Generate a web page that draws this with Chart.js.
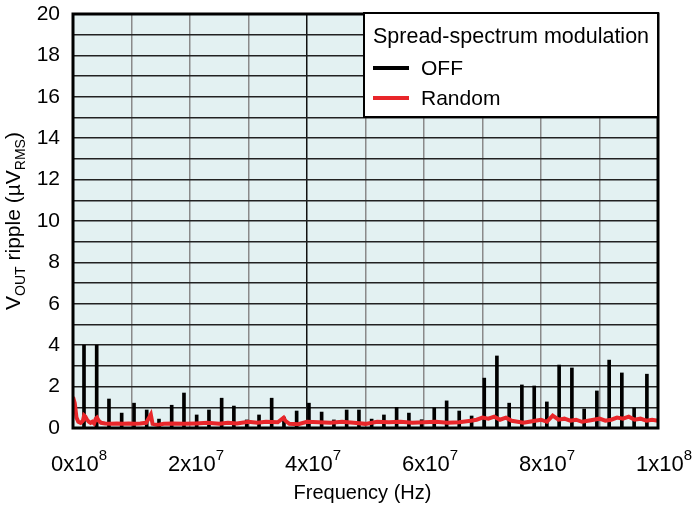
<!DOCTYPE html>
<html>
<head>
<meta charset="utf-8">
<script src="https://cdn.jsdelivr.net/npm/chart.js@4"></script>
<style>
  body { margin: 0; background: #fff; }
</style>
</head>
<body>
<canvas id="rippleChart" width="700" height="508"></canvas>
<script>
// spread-spectrum OFF: harmonic spikes (Hz, uVrms)
const offFreq = [1.88e6, 4.05e6, 6.15e6, 8.32e6, 10.43e6, 12.6e6, 14.7e6, 16.87e6, 18.97e6, 21.14e6,
  23.24e6, 25.41e6, 27.5e6, 29.7e6, 31.8e6, 33.96e6, 36.06e6, 38.23e6, 40.33e6, 42.5e6,
  44.6e6, 46.78e6, 48.88e6, 51.05e6, 53.15e6, 55.32e6, 57.42e6, 59.6e6, 61.75e6, 63.87e6,
  66.02e6, 68.14e6, 70.3e6, 72.46e6, 74.56e6, 76.73e6, 78.84e6, 81.0e6, 83.1e6, 85.28e6,
  87.38e6, 89.55e6, 91.65e6, 93.82e6, 95.92e6, 98.1e6];
const offRipple = [4.0, 4.0, 1.4, 0.72, 1.2, 0.87, 0.43, 1.1, 1.69, 0.63,
  0.87, 1.44, 1.06, 0.39, 0.63, 1.44, 0.53, 0.82, 1.2, 0.77,
  0.39, 0.87, 0.87, 0.43, 0.63, 1.0, 0.72, 0.4, 0.97, 1.31,
  0.82, 0.58, 2.41, 3.48, 1.2, 2.08, 2.03, 1.26, 3.04, 2.9,
  0.92, 1.79, 3.28, 2.66, 0.97, 2.6];

// spread-spectrum Random: noise floor (Hz, uVrms)
const randomFreq = [0, 0.3e6, 0.6e6, 0.9e6, 1.3e6, 1.7e6, 1.9e6, 2.1e6, 2.4e6, 2.7e6,
  3.0e6, 3.3e6, 3.6e6, 3.9e6, 4.1e6, 4.4e6, 4.8e6, 5.5e6, 6.5e6, 7.5e6,
  8.5e6, 9.5e6, 10.5e6, 11.5e6, 12.5e6, 13.0e6, 13.3e6, 13.6e6, 14.5e6, 15.5e6,
  17e6, 19e6, 21e6, 23e6, 25e6, 26.5e6, 28e6, 30e6, 31.5e6, 33e6,
  35e6, 36e6, 36.3e6, 37e6, 38.5e6, 40e6, 42e6, 44e6, 46e6, 48e6,
  50e6, 52e6, 54e6, 56e6, 58e6, 60e6, 62e6, 64e6, 66e6, 68e6,
  69e6, 70e6, 71e6, 72e6, 73e6, 74e6, 75e6, 76e6, 77e6, 78e6,
  79e6, 80e6, 81e6, 82e6, 83e6, 84e6, 85e6, 86e6, 87e6, 88e6,
  89e6, 90e6, 91e6, 92e6, 93e6, 94e6, 95e6, 96e6, 97e6, 98e6,
  99e6, 100e6];
const randomRipple = [1.5, 1.2, 0.5, 0.3, 0.25, 0.35, 0.6, 0.55, 0.4, 0.3,
  0.25, 0.3, 0.22, 0.45, 0.5, 0.35, 0.25, 0.22, 0.2, 0.22,
  0.2, 0.22, 0.2, 0.22, 0.25, 0.5, 0.65, 0.2, 0.15, 0.2,
  0.22, 0.2, 0.22, 0.25, 0.2, 0.25, 0.22, 0.3, 0.25, 0.3,
  0.28, 0.5, 0.35, 0.2, 0.18, 0.3, 0.28, 0.25, 0.3, 0.25,
  0.2, 0.3, 0.28, 0.3, 0.25, 0.28, 0.3, 0.25, 0.28, 0.35,
  0.4, 0.5, 0.45, 0.55, 0.4, 0.5, 0.35, 0.3, 0.25, 0.3,
  0.35, 0.4, 0.3, 0.6, 0.4, 0.45, 0.35, 0.4, 0.3, 0.35,
  0.4, 0.45, 0.35, 0.4, 0.5, 0.45, 0.55, 0.4, 0.45, 0.35,
  0.4, 0.35];

// x tick labels, written as mantissa x 10^exp
const xTickValues = [0, 2e7, 4e7, 6e7, 8e7, 1e8];
const xTickBase = ['0x10', '2x10', '4x10', '6x10', '8x10', '1x10'];
const xTickExp = ['8', '7', '7', '7', '7', '8'];

const FONT = '"Liberation Sans", Arial, sans-serif';
const RED = '#e8262a';

const decorations = {
  id: 'decorations',
  beforeDraw(chart) {
    const ctx = chart.ctx, a = chart.chartArea;
    ctx.save();
    ctx.fillStyle = '#e3f1f2';
    ctx.fillRect(a.left, a.top, a.right - a.left, a.bottom - a.top);
    ctx.restore();
  },
  afterDraw(chart) {
    const ctx = chart.ctx, a = chart.chartArea;
    const xs = chart.scales.x;
    ctx.save();

    // frame
    ctx.strokeStyle = '#000';
    ctx.lineWidth = 3;
    ctx.strokeRect(a.left, a.top, a.right - a.left, a.bottom - a.top);

    // x tick labels with superscript
    ctx.fillStyle = '#000';
    ctx.textBaseline = 'alphabetic';
    ctx.textAlign = 'left';
    xTickValues.forEach((v, i) => {
      ctx.font = '22px ' + FONT;
      const bw = ctx.measureText(xTickBase[i]).width;
      ctx.font = '15px ' + FONT;
      const ew = ctx.measureText(xTickExp[i]).width;
      let x0 = xs.getPixelForValue(v) + 6 - (bw + ew) / 2;
      if (x0 + bw + ew > 699) x0 = 699 - bw - ew;
      ctx.font = '22px ' + FONT;
      ctx.fillText(xTickBase[i], x0, a.bottom + 43);
      ctx.font = '15px ' + FONT;
      ctx.fillText(xTickExp[i], x0 + bw, a.bottom + 32);
    });

    // x title
    ctx.font = '20px ' + FONT;
    ctx.textAlign = 'center';
    ctx.fillText('Frequency (Hz)', (a.left + a.right) / 2 - 3, 499);

    // y title with subscripts, rotated
    const parts = [['V', false], ['OUT', true], [' ripple (µV', false], ['RMS', true], [')', false]];
    let total = 0;
    parts.forEach(p => {
      ctx.font = (p[1] ? '14px ' : '21px ') + FONT;
      total += ctx.measureText(p[0]).width;
    });
    ctx.translate(20, (a.top + a.bottom) / 2);
    ctx.rotate(-Math.PI / 2);
    ctx.textAlign = 'left';
    let px = -total / 2;
    parts.forEach(p => {
      ctx.font = (p[1] ? '14px ' : '21px ') + FONT;
      ctx.fillText(p[0], px, p[1] ? 5 : 0);
      px += ctx.measureText(p[0]).width;
    });
    ctx.setTransform(1, 0, 0, 1, 0, 0);

    // legend box
    const lx = a.right - 294, ly = a.top - 1;
    ctx.fillStyle = '#fff';
    ctx.fillRect(lx, ly, 294, 104);
    ctx.strokeStyle = '#000';
    ctx.lineWidth = 2;
    ctx.strokeRect(lx, ly, 294, 104);
    ctx.fillStyle = '#000';
    ctx.font = '21.5px ' + FONT;
    ctx.textAlign = 'left';
    ctx.textBaseline = 'alphabetic';
    ctx.fillText('Spread-spectrum modulation', lx + 9, ly + 30);
    ctx.textBaseline = 'middle';
    chart.data.datasets.forEach((ds, i) => {
      const yy = ly + 55 + i * 30;
      ctx.strokeStyle = ds.legendColor;
      ctx.lineWidth = 4;
      ctx.beginPath();
      ctx.moveTo(lx + 9, yy);
      ctx.lineTo(lx + 45, yy);
      ctx.stroke();
      ctx.fillStyle = '#000';
      ctx.font = '21px ' + FONT;
      ctx.fillText(ds.label, lx + 57, yy + 1);
    });
    ctx.restore();
  }
};

new Chart(document.getElementById('rippleChart'), {
  type: 'bar',
  data: {
    datasets: [{
      type: 'bar',
      label: 'OFF',
      legendColor: '#000',
      data: offFreq.map((f, i) => ({ x: f, y: offRipple[i] })),
      backgroundColor: '#000',
      barThickness: 3,
      order: 2
    }, {
      type: 'line',
      label: 'Random',
      legendColor: RED,
      data: randomFreq.map((f, i) => ({ x: f, y: randomRipple[i] })),
      borderColor: RED,
      borderWidth: 4,
      pointRadius: 0,
      tension: 0,
      order: 1
    }]
  },
  options: {
    responsive: false,
    animation: false,
    layout: { padding: { left: 0, right: 42, top: 14, bottom: 0 } },
    scales: {
      x: {
        type: 'linear',
        min: 0,
        max: 1e8,
        offset: false,
        grid: {
          offset: false,
          drawTicks: false,
          lineWidth: 1.5,
          color: c => (c.tick && c.tick.value === 4e7) ? '#111' : '#8a8a8a'
        },
        border: { display: false },
        ticks: { display: false, stepSize: 1e7 },
        afterFit(s) { s.height = 80; s.paddingLeft = 0; s.paddingRight = 0; }
      },
      y: {
        min: 0,
        max: 20,
        grid: { drawTicks: false, lineWidth: 1.5, color: '#222' },
        border: { display: false },
        ticks: {
          stepSize: 1,
          autoSkip: false,
          padding: 13,
          color: '#000',
          font: { size: 21, family: FONT },
          callback: v => (v % 2 === 0 ? v : '')
        },
        afterFit(s) { s.width = 73; s.paddingTop = 0; s.paddingBottom = 0; }
      }
    },
    plugins: {
      legend: { display: false },
      tooltip: { enabled: false }
    }
  },
  plugins: [decorations]
});
</script>
</body>
</html>
